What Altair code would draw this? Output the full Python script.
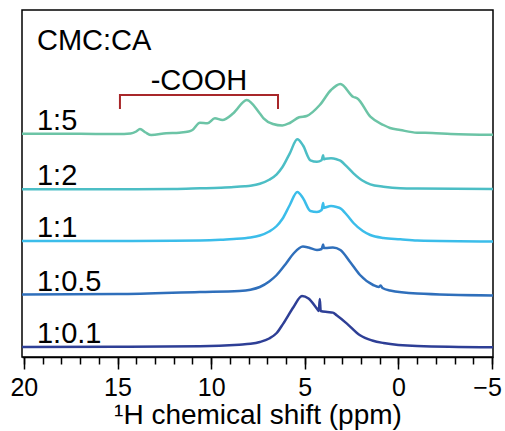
import altair as alt
import pandas as pd

# ---- data ----
series_names = ["1:5", "1:2", "1:1", "1:0.5", "1:0.1"]
series_colors = ["#6cc4a6", "#4cbec5", "#3bbdea", "#2f6fbb", "#2e3f96"]
offsets = [223, 167.7, 116, 62.5, 10]

ppm_1_5 = [20.1, 17.0, 15.0, 14.3, 14.0, 13.8, 13.5, 13.2, 12.4, 11.7, 11.2, 11.0, 10.6, 10.2, 9.8,
           9.4, 8.8, 8.1, 7.4, 7.2, 6.7, 6.2, 5.8, 5.3, 4.9, 4.2, 3.6, 3.1, 2.4, 2.2, 1.5, 0.8,
           0.45, -0.1, -1.0, -1.8, -2.8, -5.05]
int_1_5 = [0.3, 0.2, 0, 0.5, 2.5, 5, 1.5, -1, 0.7, 1.3, 2.5, 4, 11.3, 10.7, 15.7,
           14, 21, 34, 20.5, 15.7, 10, 8.5, 11, 16.7, 18, 29, 44, 50, 37, 35.7, 17.3, 9,
           6, 4, 1.3, 1, 0, -0.8]

ppm_1_2 = [20.1, 15, 12, 10.6, 9.5, 8.8, 8.2, 7.9, 7.4, 6.9, 6.5, 6.2, 5.8, 5.4, 5.1, 4.7,
           4.35, 4.1, 4.02, 3.98, 3.9, 3.6, 3.3, 3.1, 2.75, 2.4, 1.9, 1.5, 0.8, -0.1, -1.0, -5.05]
int_1_2 = [0, 0, 0.3, 1, 1.6, 2.2, 3, 3.6, 5.5, 9.5, 15, 22, 36, 50, 44, 29,
           27.6, 29, 34, 30, 30.5, 31, 30, 28.6, 22.6, 16, 8.5, 5, 2.6, 1, 0.7, 0.3]

ppm_1_1 = [20.1, 15, 12, 10.6, 9.5, 8.8, 8.2, 7.9, 7.4, 6.9, 6.5, 6.2, 5.8, 5.4, 5.1, 4.7,
           4.35, 4.1, 4.02, 3.98, 3.9, 3.6, 3.3, 3.1, 2.75, 2.4, 1.9, 1.5, 0.8, -0.1, -1.0, -5.05]
int_1_1 = [0, 0, 0.3, 0.5, 1.2, 2, 2.8, 3.5, 5.5, 9.5, 15, 22, 36, 49, 43, 30,
           29, 31, 38, 33, 33.5, 35, 34, 32.7, 26, 18, 10, 6, 3, 1.7, 0.5, -0.5]

ppm_1_05 = [20.1, 15, 10.6, 8.5, 7.9, 7.4, 6.9, 6.5, 6.0, 5.6, 5.1, 4.8, 4.35, 4.1, 4.02, 3.98,
            3.9, 3.5, 3.1, 2.6, 2.05, 1.35, 1.05, 0.95, 0.85, 0.45, -1.0, -5.05]
int_1_05 = [0, 0.5, 2.6, 3.6, 4.8, 7.5, 13, 19.5, 31, 41, 48, 47, 44.5, 45.5, 50, 46.5,
            46.5, 47, 44.5, 33, 19.5, 9.5, 7.5, 9, 6.5, 4, 1, -1]

ppm_1_01 = [20.1, 15, 10.6, 8.5, 7.9, 7.4, 6.9, 6.5, 6.15, 5.6, 5.15, 4.8, 4.35, 4.25, 4.2,
            4.15, 3.8, 3.5, 3.3, 2.75, 2.05, 1.4, 0.8, -1.0, -5.05]
int_1_01 = [0, 0.3, 0.7, 2.3, 3.2, 5, 8.5, 14, 23.4, 40, 51, 48.4, 38.4, 36, 48,
            36, 35, 34.4, 31.7, 23.4, 11.7, 6.5, 4, 1, -0.3]

spectra_ppm = [ppm_1_5, ppm_1_2, ppm_1_1, ppm_1_05, ppm_1_01]
spectra_int = [int_1_5, int_1_2, int_1_1, int_1_05, int_1_01]

major_ticks = [20, 15, 10, 5, 0, -5]
minor_ticks = list(range(20, -6, -1))

title_text = "CMC:CA"
group_text = "-COOH"
group_range = [14.87, 6.43]   # ppm range of the -COOH bracket
group_level = [248, 262]      # bracket foot / top levels
x_domain = [20.1, -5.05]
y_domain = [0, 347]

# ---- build tables ----
rows = []
for name, px, iv, off in zip(series_names, spectra_ppm, spectra_int, offsets):
    assert len(px) == len(iv)
    for i, (p, v) in enumerate(zip(px, iv)):
        rows.append({"series": name, "ppm": p, "y": off + v, "i": i})
lines_df = pd.DataFrame(rows)

labels_df = pd.DataFrame({"series": series_names, "ppm": [19.3] * 5,
                          "y": [o + 4 for o in offsets]})

bracket_df = pd.DataFrame({
    "ppm": [group_range[0], group_range[0], group_range[1], group_range[1]],
    "y": [group_level[0], group_level[1], group_level[1], group_level[0]],
    "i": [0, 1, 2, 3],
})

xscale = alt.Scale(domain=x_domain, nice=False, zero=False)
yscale = alt.Scale(domain=y_domain, nice=False, zero=False)
FONT = "Liberation Sans"

major_axis = alt.Axis(values=major_ticks, orient="bottom", title="\u00b9H chemical shift (ppm)",
                      tickSize=12, tickWidth=1.5, domainWidth=1.5, domainColor="black",
                      tickColor="black", labelFontSize=25, labelFont=FONT, labelColor="black",
                      labelPadding=6, titleFontSize=28, titleFont=FONT, titleFontWeight="normal",
                      titleColor="black", titlePadding=1, grid=False, labelFlush=False,
                      labelOverlap=False,
                      labelOffset={"condition": {"test": "datum.value == -5", "value": -5},
                                   "value": 0})
minor_axis = alt.Axis(values=minor_ticks, orient="bottom", title=None, labels=False,
                      tickSize=7, tickWidth=1.5, domain=False, tickColor="black", grid=False)

lines = alt.Chart(lines_df).mark_line(strokeWidth=2.5, interpolate="monotone").encode(
    x=alt.X("ppm:Q", scale=xscale, axis=major_axis),
    y=alt.Y("y:Q", scale=yscale, axis=None),
    color=alt.Color("series:N", scale=alt.Scale(domain=series_names, range=series_colors),
                    legend=None),
    order="i:Q",
    detail="series:N",
)

labels = alt.Chart(labels_df).mark_text(align="left", baseline="alphabetic", fontSize=29,
                                        font=FONT, color="black").encode(
    x=alt.X("ppm:Q", scale=xscale, axis=minor_axis),
    y=alt.Y("y:Q", scale=yscale, axis=None),
    text="series:N",
)

title_df = pd.DataFrame({"t": [title_text], "ppm": [19.3], "y": [307]})
title_mark = alt.Chart(title_df).mark_text(align="left", baseline="alphabetic", fontSize=29,
                                           font=FONT, color="black").encode(
    x=alt.X("ppm:Q", scale=xscale, axis=None),
    y=alt.Y("y:Q", scale=yscale, axis=None),
    text="t:N",
)

bracket = alt.Chart(bracket_df).mark_line(color="#a8272a", strokeWidth=2).encode(
    x=alt.X("ppm:Q", scale=xscale, axis=None),
    y=alt.Y("y:Q", scale=yscale, axis=None),
    order="i:Q",
)

group_df = pd.DataFrame({"t": [group_text], "ppm": [sum(group_range) / 2], "y": [267]})
group_mark = alt.Chart(group_df).mark_text(align="center", baseline="alphabetic", fontSize=29,
                                           font=FONT, color="black").encode(
    x=alt.X("ppm:Q", scale=xscale, axis=None),
    y=alt.Y("y:Q", scale=yscale, axis=None),
    text="t:N",
)

chart = alt.layer(lines, labels, title_mark, bracket, group_mark).resolve_axis(
    x="independent"
).properties(
    width=471, height=347,
    autosize=alt.AutoSizeParams(type="none"),
    padding={"left": 22, "top": 10, "right": 12, "bottom": 74},
).configure_view(stroke="black", strokeWidth=1.5)

chart.save("out.html", embed_options={"renderer": "svg", "actions": False})
